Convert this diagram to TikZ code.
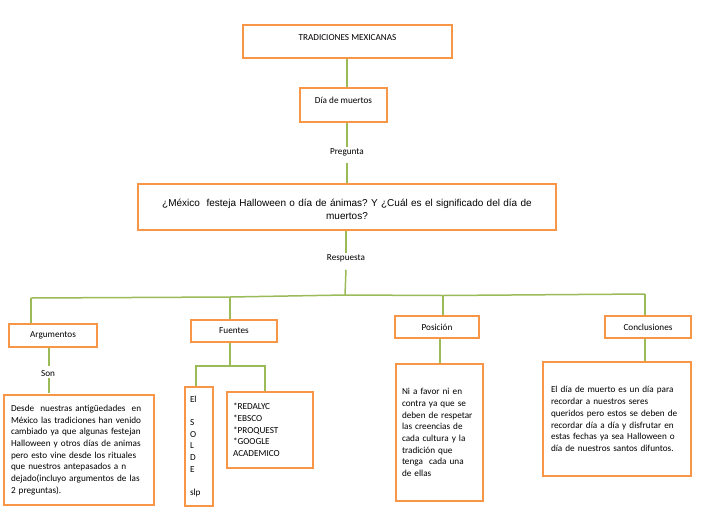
\documentclass[tikz,border=0pt]{standalone}
\usepackage{fontspec}
\setmainfont{Carlito}
\newfontfamily\arialfont{Liberation Sans}
\usetikzlibrary{positioning}
\definecolor{boxOrange}{RGB}{247,150,70}
\definecolor{lineGreen}{RGB}{155,187,89}
\frenchspacing

\tikzset{
  box/.style={draw=boxOrange, line width=1.5pt, fill=white, inner sep=2pt,
    font=\fontsize{9.2}{11.7}\selectfont},
  textbox/.style={box, align=left, inner ysep=4pt},
  link/.style={draw=lineGreen, line width=1.5pt},
  tag/.style={font=\fontsize{9.2}{10}\selectfont, inner sep=1pt},
}

\begin{document}
\begin{tikzpicture}[x=1pt, y=-1pt]
  \useasboundingbox (0,0) rectangle (728,515);

  % Top of the map
  \node[box, minimum width=209, minimum height=33, text depth=7pt] (tradiciones) at (347.5,41.5) {TRADICIONES MEXICANAS};
  \node[box, minimum width=87, minimum height=34, text depth=10pt] (dia) at (343.5,105) {Día de muertos};
  \node[tag] (pregunta) at (347,152) {Pregunta};
  \node[box, minimum width=418, minimum height=46, text depth=9pt, text width=400, align=center,
    font=\arialfont\fontsize{10}{13.5}\selectfont] (pregbox) at (347,207)
    {¿México~ festeja Halloween o día de ánimas? Y ¿Cuál es el significado del día de\\ muertos?};
  \node[tag] (respuesta) at (346,258) {Respuesta};

  \draw[link] (tradiciones.south -| pregunta.north) -- (pregunta.north |- dia.north);
  \draw[link] (pregunta.north |- dia.south) -- (pregunta.north);
  \draw[link] (pregunta.south) ++(0,6) -- (pregunta.south |- pregbox.north);
  \draw[link] (pregbox.south -| respuesta.north) -- (respuesta.north);

  % Branch line
  \coordinate (dArg) at (31,298);
  \coordinate (dFue) at (230,297);
  \coordinate (jMid) at (345,295);
  \coordinate (dPos) at (443,295.5);
  \coordinate (dCon) at (645,294);
  \draw[link] (respuesta.south) ++(0,7) -- (jMid);
  \draw[link] (dArg) -- (dFue) -- (jMid) -- (dPos) -- (dCon);

  % Second level
  \node[box, minimum width=88, minimum height=23] (argumentos) at (53,335.5) {Argumentos};
  \node[box, minimum width=86, minimum height=22] (fuentes) at (234,331) {Fuentes};
  \node[box, minimum width=84, minimum height=22] (posicion) at (437,327) {Posición};
  \node[box, minimum width=86, minimum height=22] (conclusiones) at (648,327) {Conclusiones};

  \draw[link] (dArg) -- (dArg |- argumentos.north);
  \draw[link] (dFue) -- (dFue |- fuentes.north);
  \draw[link] (dPos) -- (dPos |- posicion.north);
  \draw[link] (dCon) -- (dCon |- conclusiones.north);

  % Argumentos
  \node[tag] (son) at (48,374) {Son};
  \node[textbox, minimum width=150, minimum height=110, inner xsep=7pt, text width=136] (desde) at (79,450)
    {Desde~ nuestras antigüedades~ en\\
     México las tradiciones han venido\\
     cambiado ya que algunas festejan\\
     Halloween y otros días de animas\\
     pero esto vine desde los rituales\\
     que nuestros antepasados a n\\
     dejado(incluyo argumentos de las\\
     2 preguntas).};
  \draw[link] (argumentos.south -| son.north) ++(1,0) -- ++(0,18);
  \draw[link] (son.south) ++(1,0) -- ++(0,15);

  % Fuentes
  \node[textbox, minimum width=28, minimum height=119, inner xsep=5pt, text width=18] (el) at (199,446.5)
    {El\\[11.7pt] S\\ O\\ L\\ D\\ E\\[11.7pt] slp};
  \node[textbox, minimum width=86, minimum height=76, inner xsep=6pt, text width=74] (redalyc) at (270,430)
    {*REDALYC\\{}*EBSCO\\{}*PROQUEST\\{}*GOOGLE\\ ACADEMICO};
  \coordinate (fSplit) at (230,366);
  \coordinate (fLeft) at (196,366);
  \coordinate (fRight) at (265,366);
  \draw[link] (fSplit |- fuentes.south) -- (fSplit);
  \draw[link] (fLeft |- el.north) -- (fLeft) -- (fRight) -- (fRight |- redalyc.north);

  % Posicion
  \node[textbox, minimum width=87, minimum height=137, inner xsep=6pt, text width=75] (postexto) at (439.5,432.5)
    {Ni a favor ni en\\ contra ya que se\\ deben de respetar\\ las creencias de\\
     cada cultura y la\\ tradición que\\ tenga~ cada una\\ de ellas};
  \coordinate (pDown) at (440,0);
  \draw[link] (pDown |- posicion.south) -- (pDown |- postexto.north);

  % Conclusiones
  \node[textbox, minimum width=148, minimum height=114, inner xsep=8pt, text width=132] (contexto) at (617,419)
    {El día de muerto es un día para\\ recordar a nuestros seres\\ queridos pero estos se deben de\\
     recordar día a día y disfrutar en\\ estas fechas ya sea Halloween o\\ día de nuestros santos difuntos.};
  \draw[link] (dCon |- conclusiones.south) -- (dCon |- contexto.north);
\end{tikzpicture}
\end{document}
